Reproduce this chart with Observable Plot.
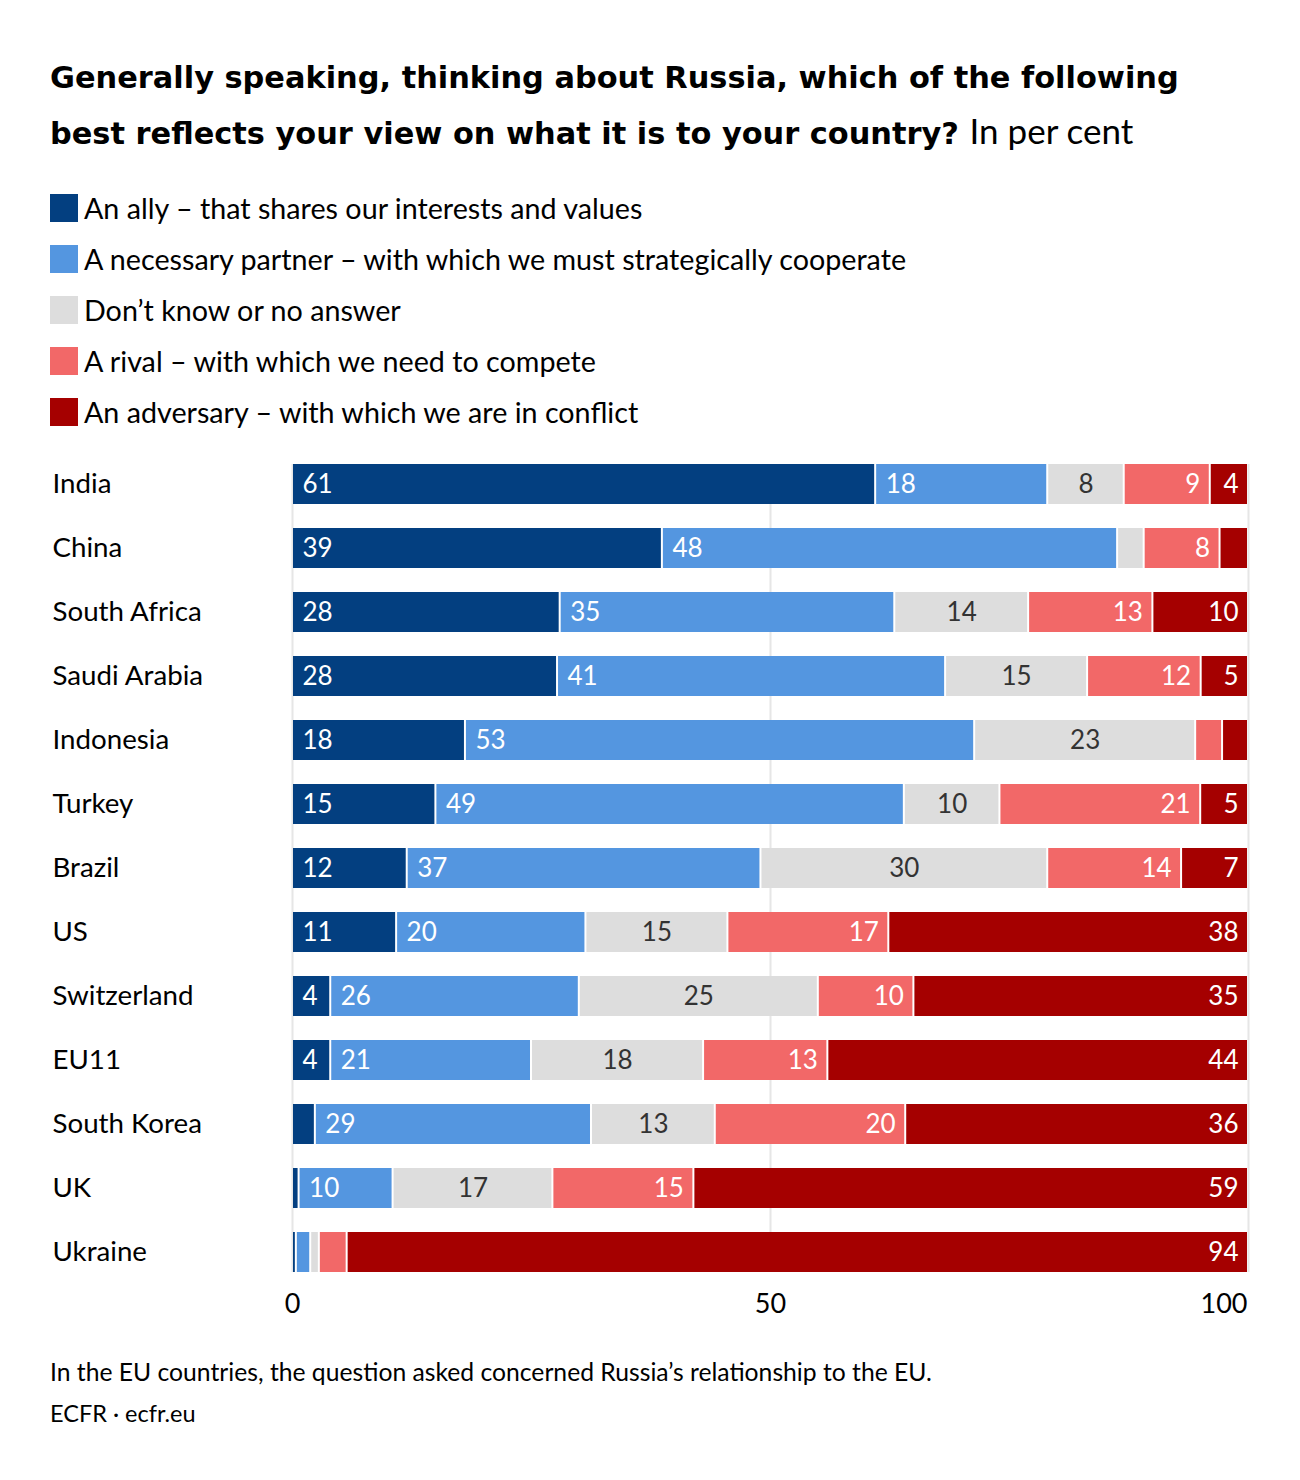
<!DOCTYPE html>
<html><head><meta charset="utf-8">
<script src="https://cdn.jsdelivr.net/npm/d3@7"></script>
<script src="https://cdn.jsdelivr.net/npm/@observablehq/plot@0.6"></script>
<style>
body{margin:0;background:#fff;font-family:Lato,"Noto Sans",sans-serif;color:#000}
#wrap{position:relative;width:1300px;height:1480px;overflow:hidden}
h1{position:absolute;left:50px;top:51px;margin:0;font-family:"DejaVu Sans",sans-serif;font-size:30.4px;line-height:53px;font-weight:700;width:1240px;white-space:nowrap}
h1 span{font-family:Lato,sans-serif;font-weight:400;font-size:35px}
#legend{position:absolute;left:50px;top:183px}
.item{display:flex;align-items:center;height:50.8px;font-size:28.7px}
.sw{width:28px;height:28px;margin-right:6px;flex:none}
#chart{position:absolute;left:0;top:440px}
.note{position:absolute;left:50px;font-size:24.7px;line-height:30px}
</style></head>
<body><div id="wrap">
<h1>Generally speaking, thinking about Russia, which of the following<br>best reflects your view on what it is to your country? <span>In per cent</span></h1>
<div id="legend"></div>
<div id="chart"></div>
<div class="note" style="top:1357px">In the EU countries, the question asked concerned Russia’s relationship to the EU.</div>
<div class="note" style="top:1398px;font-size:23.5px">ECFR · ecfr.eu</div>
</div>
<script>
const countries = ["India","China","South Africa","Saudi Arabia","Indonesia","Turkey","Brazil","US","Switzerland","EU11","South Korea","UK","Ukraine"];
const categories = [
  "An ally – that shares our interests and values",
  "A necessary partner – with which we must strategically cooperate",
  "Don’t know or no answer",
  "A rival – with which we need to compete",
  "An adversary – with which we are in conflict"
];
const colors = ["#033f80","#5496e0","#dddddd","#f26868","#a50000"];
const ally      = [61,39,28,28,18,15,12,11,4,4,2.4,0.7,0.4];
const partner   = [18,48,35,41,53,49,37,20,26,21,29,10,1.5];
const dontKnow  = [8,2.8,14,15,23,10,30,15,25,18,13,17,0.9];
const rival     = [9,8,13,12,2.8,21,14,17,10,13,20,15,2.9];
const adversary = [4,3,10,5,2.7,5,7,38,35,44,36,59,94];
const series = [ally, partner, dontKnow, rival, adversary];

const data = countries.flatMap((c,i)=>categories.map((cat,j)=>({country:c, category:cat, value:series[j][i]})));

// legend
const lg = document.getElementById("legend");
categories.forEach((c,i)=>{
  const d = document.createElement("div"); d.className="item";
  d.innerHTML = `<span class="sw" style="background:${colors[i]}"></span><span>${c}</span>`;
  lg.appendChild(d);
});

const lbl = cats => d => (cats.includes(d.category) && d.value >= 4) ? String(Math.round(d.value)) : null;
const st = {x:"value", y:"country", z:"category", order:categories, offset:"normalize"};

const chart = Plot.plot({
  width:1300, height:892,
  marginLeft:292, marginRight:52, marginTop:24, marginBottom:60,
  style:{fontFamily:"Lato, 'Noto Sans', sans-serif", fontSize:"26px", background:"#fff"},
  x:{domain:[0,1], axis:null},
  y:{domain:countries, axis:null, paddingInner:0.375, paddingOuter:0},
  color:{domain:categories, range:colors},
  marks:[
    Plot.ruleX([0,0.5,1], {stroke:"#e6e6e6", strokeWidth:2}),
    Plot.barX(data, Plot.stackX({...st, fill:"category", insetLeft:1, insetRight:1})),
    Plot.text(data, Plot.stackX1({...st, text:lbl([categories[0],categories[1]]), textAnchor:"start", dx:10, fill:"#fff", fontSize:26})),
    Plot.text(data, Plot.stackX({...st, text:lbl([categories[2]]), textAnchor:"middle", fill:"#333", fontSize:26})),
    Plot.text(data, Plot.stackX2({...st, text:lbl([categories[3],categories[4]]), textAnchor:"end", dx:-10, fill:"#fff", fontSize:26})),
    Plot.text(countries, {y:d=>d, text:d=>d, frameAnchor:"left", textAnchor:"start", dx:-240, fill:"#000", fontSize:27.7}),
    Plot.axisX({ticks:[0,0.5], tickFormat:d=>String(d*100), tickSize:0, tickPadding:21, fontSize:27, fill:"#000", textAnchor:"middle", label:null}),
    Plot.axisX({ticks:[1], tickFormat:d=>String(d*100), tickSize:0, tickPadding:21, fontSize:27, fill:"#000", textAnchor:"end", dx:-1, label:null})
  ]
});
document.getElementById("chart").appendChild(chart);
</script>
</body></html>
